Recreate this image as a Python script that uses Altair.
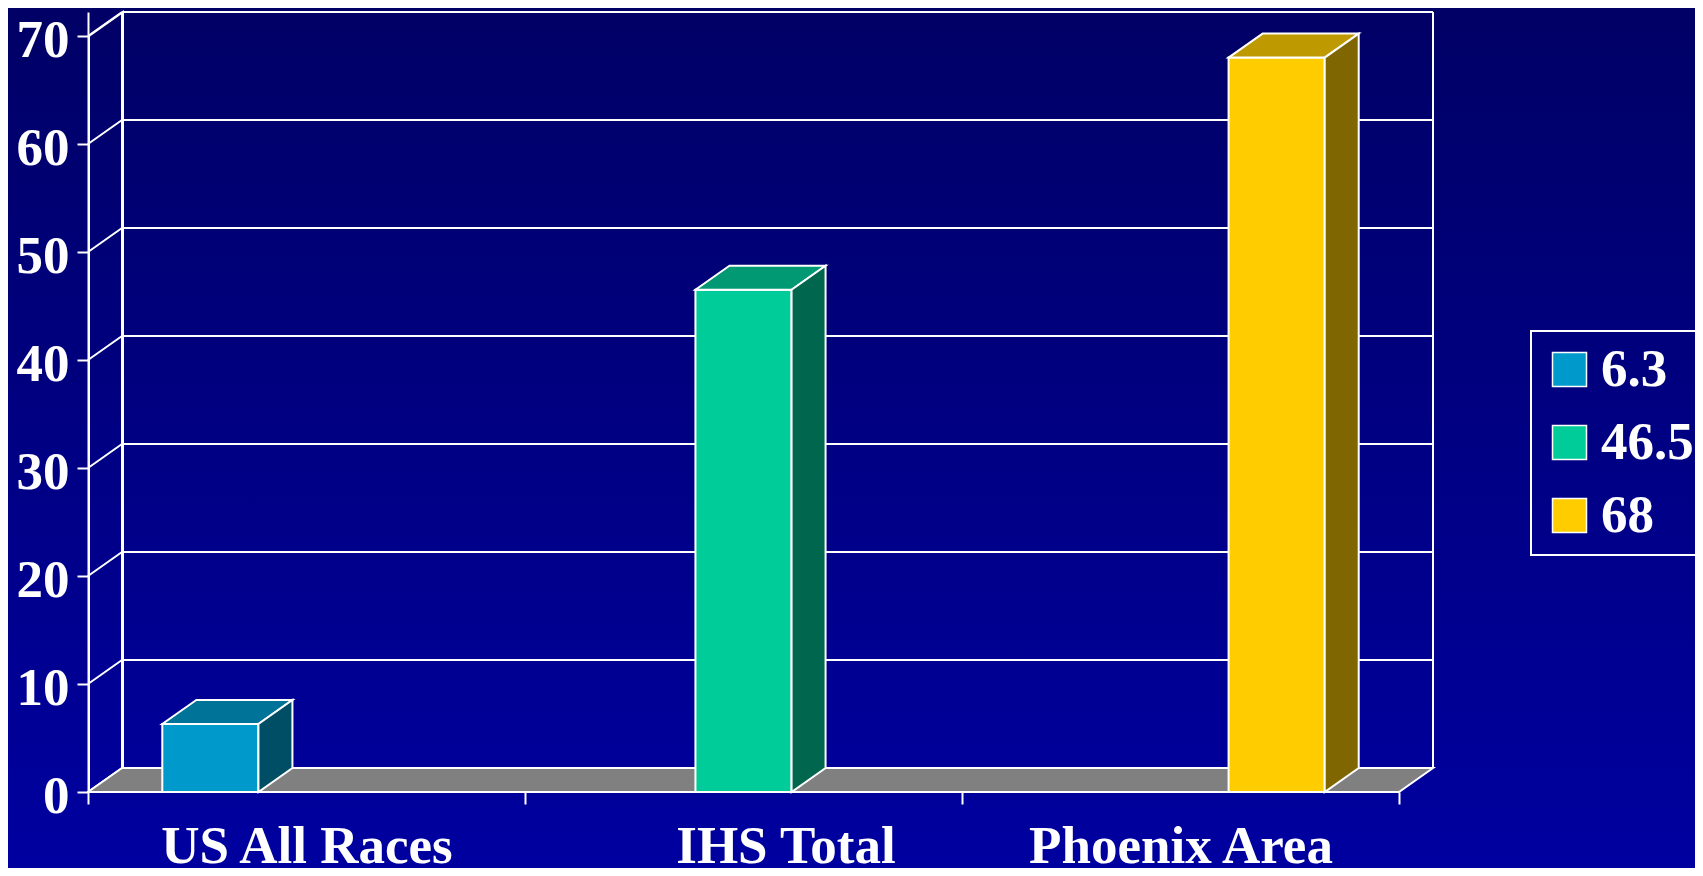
import json
import altair as alt
import pandas as pd

# ---------------- data ----------------
categories = ["US All Races", "IHS Total", "Phoenix Area"]
series = ["6.3", "46.5", "68"]
values = [6.3, 46.5, 68]
series_of_bar = [0, 1, 2]          # which series each category's bar belongs to
y_ticks = [0, 10, 20, 30, 40, 50, 60, 70]

# ---------------- styles / layout ----------------
front_colors = ["#0099CC", "#00CC99", "#FFCC00"]
top_colors = ["#007399", "#009973", "#BF9900"]
side_colors = ["#004D66", "#00664D", "#806600"]
FLOOR = "#808080"
LINE = "#FFFFFF"
FONT = "Liberation Serif"

W, H = 1345, 780                 # plot area (includes the 3D depth)
DEPTH_PX_X, DEPTH_PX_Y = 34, 24
N = len(categories)
Y_MAX = 70
kx = (W - DEPTH_PX_X) / N        # px per category slot
ky = (H - DEPTH_PX_Y) / Y_MAX    # px per y unit
DX = DEPTH_PX_X / kx             # depth in data units
DY = DEPTH_PX_Y / ky
GROUP_START, BAR_W = 0.17, 0.22  # bar placement inside each slot (slot units)

xs = alt.Scale(domain=[0, N + DX], nice=False, zero=False)
ys = alt.Scale(domain=[0, Y_MAX + DY], nice=False, zero=False)

# ---------------- derived tables ----------------
bars = []
for ci, (cat, v) in enumerate(zip(categories, values)):
    si = series_of_bar[ci]
    x0 = ci + GROUP_START + si * BAR_W
    bars.append(dict(cat=cat, series=series[si], v=v, x0=x0, x1=x0 + BAR_W,
                     top=top_colors[si], side=side_colors[si]))
bars_df = pd.DataFrame(bars)

top_rows, side_rows = [], []
for b in bars:
    top_rows.append(dict(series=b["series"], y=b["v"], xa=b["x0"], xb=b["x1"], c=b["top"]))
    top_rows.append(dict(series=b["series"], y=b["v"] + DY, xa=b["x0"] + DX, xb=b["x1"] + DX, c=b["top"]))
    side_rows.append(dict(series=b["series"], x=b["x1"], ya=b["v"], yb=0, c=b["side"]))
    side_rows.append(dict(series=b["series"], x=b["x1"] + DX, ya=b["v"] + DY, yb=DY, c=b["side"]))
top_df = pd.DataFrame(top_rows)
side_df = pd.DataFrame(side_rows)

floor_df = pd.DataFrame([dict(y=0.0, xa=0.0, xb=float(N)), dict(y=DY, xa=DX, xb=N + DX)])

# left side wall outline (front value-axis line, top/bottom diagonals, back edge)
y_lo, y_hi = float(min(y_ticks)), float(max(y_ticks))
sidewall_df = pd.DataFrame([dict(x=0.0, ya=y_hi, yb=y_lo), dict(x=DX, ya=y_hi + DY, yb=y_lo + DY)])

slant = []
for t in y_ticks:
    slant.append(dict(x=DX, x2=N + DX, y=t + DY, y2=t + DY))   # back wall grid
    slant.append(dict(x=0.0, x2=DX, y=float(t), y2=t + DY))    # side wall diagonals
slant_df = pd.DataFrame(slant)

verts_df = pd.DataFrame([
    dict(x=DX, y=DY, y2=Y_MAX + DY),          # back wall left edge
    dict(x=N + DX, y=DY, y2=Y_MAX + DY),      # back wall right edge
    dict(x=1.0 / kx, y=y_lo, y2=y_hi),        # front value-axis line
])

# ---------------- axes ----------------
cat_expr = json.dumps(categories)
x_axis = alt.Axis(
    values=list(range(N + 1)), tickSize=12, tickColor=LINE, tickWidth=2, domain=False, grid=False,
    labelExpr=f"datum.value < {N} ? {cat_expr}[datum.value] : ''",
    labelOffset={"condition": {"test": "datum.value == 1", "value": kx / 2 + 42}, "value": kx / 2},
    labelFlush=False, labelOverlap=False, labelBound=False, labelAlign="center", labelLimit=800,
    labelBaseline="alphabetic", labelPadding=58, zindex=2,
    labelFont=FONT, labelFontSize=53, labelFontWeight="bold", labelColor=LINE, title=None,
)
y_axis = alt.Axis(
    values=y_ticks, tickSize=11, tickColor=LINE, tickWidth=2,
    domain=True, domainColor=LINE, domainWidth=2, grid=False,
    labelFlush=False, labelOverlap=False, labelBound=False,
    labelBaseline="alphabetic", labelOffset=20, labelPadding=8, zindex=2,
    labelFont=FONT, labelFontSize=53, labelFontWeight="bold", labelColor=LINE, title=None,
)

# ---------------- layers ----------------
bg = alt.Chart(pd.DataFrame({"a": [0]})).mark_rect(
    clip=False,
    fill=alt.Gradient(gradient="linear", x1=0, x2=0, y1=0, y2=1,
                      stops=[alt.GradientStop(color="#000066", offset=0),
                             alt.GradientStop(color="#0000A0", offset=1)]),
).encode(x=alt.value(-80), x2=alt.value(W + 262), y=alt.value(-4), y2=alt.value(H + 76))

sidewall = alt.Chart(sidewall_df).mark_area(
    orient="vertical", fill="#000080", fillOpacity=0, stroke=LINE, strokeWidth=2, strokeOpacity=1,
    clip=False, xOffset=1,
).encode(
    x=alt.X("x:Q", scale=xs, axis=x_axis),
    y=alt.Y("ya:Q", scale=ys, axis=y_axis), y2="yb:Q",
)

floor = alt.Chart(floor_df).mark_area(orient="horizontal", fill=FLOOR, stroke=LINE, strokeWidth=2).encode(
    y=alt.Y("y:Q", scale=ys, axis=y_axis),
    x=alt.X("xa:Q", scale=xs, axis=x_axis),
    x2="xb:Q",
)

walls = alt.Chart(slant_df).mark_rule(color=LINE, strokeWidth=2).encode(
    x=alt.X("x:Q", scale=xs, axis=x_axis), x2="x2:Q",
    y=alt.Y("y:Q", scale=ys, axis=y_axis), y2="y2:Q",
)

verts = alt.Chart(verts_df).mark_rule(color=LINE, strokeWidth=2, clip=False).encode(
    x=alt.X("x:Q", scale=xs, axis=x_axis),
    y=alt.Y("y:Q", scale=ys, axis=y_axis), y2="y2:Q",
)

front = alt.Chart(bars_df).mark_rect(stroke=LINE, strokeWidth=2).encode(
    x=alt.X("x0:Q", scale=xs, axis=x_axis), x2="x1:Q",
    y=alt.Y("v:Q", scale=ys, axis=y_axis), y2=alt.datum(0),
    color=alt.Color("series:N", scale=alt.Scale(domain=series, range=front_colors),
                    sort=series,
                    legend=alt.Legend(
                        title=None, orient="none", legendX=1443, legendY=319,
                        strokeColor=LINE, padding=12,
                        symbolType="square", symbolSize=1156, symbolStrokeColor=LINE,
                        symbolStrokeWidth=1.5, symbolOpacity=1,
                        labelFont=FONT, labelFontSize=53, labelFontWeight="bold",
                        labelColor=LINE, labelOffset=5, rowPadding=19, labelLimit=400)),
)

top = alt.Chart(top_df).mark_area(orient="horizontal", stroke=LINE, strokeWidth=2).encode(
    y=alt.Y("y:Q", scale=ys, axis=y_axis),
    x=alt.X("xa:Q", scale=xs, axis=x_axis), x2="xb:Q",
    fill=alt.Fill("c:N", scale=None),
    detail="series:N",
)

side = alt.Chart(side_df).mark_area(orient="vertical", stroke=LINE, strokeWidth=2).encode(
    x=alt.X("x:Q", scale=xs, axis=x_axis),
    y=alt.Y("ya:Q", scale=ys, axis=y_axis), y2="yb:Q",
    fill=alt.Fill("c:N", scale=None),
    detail="series:N",
)

chart = alt.layer(bg, sidewall, walls, verts, floor, front, top, side).properties(
    width=W, height=H,
    autosize=alt.AutoSizeParams(type="none"),
    padding={"left": 80, "top": 4, "right": 262, "bottom": 76},
    background="#000088",
).configure_view(strokeWidth=0).configure_legend(strokeWidth=2)

chart.save("out.html", embed_options={"renderer": "svg", "actions": False})
